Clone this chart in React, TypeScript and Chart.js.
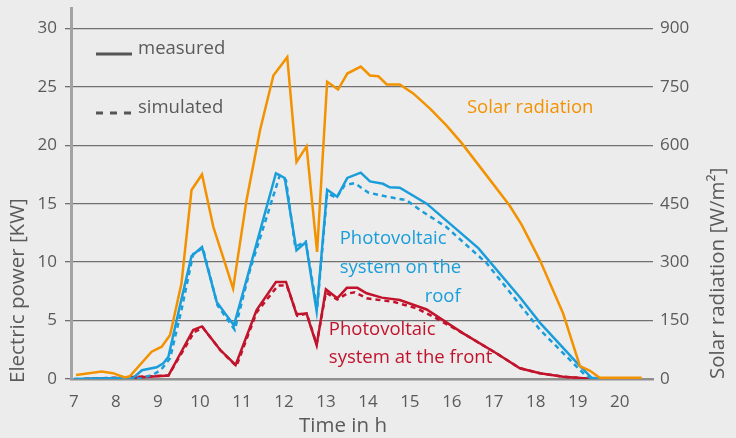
import React, { useEffect, useRef } from "react";
import { Chart, registerables } from "chart.js";

Chart.register(...registerables);

const FONT = '"Open Sans", "Noto Sans", sans-serif';
const TEXT = "#5a5a5a";
const BG = "#ececec";
const ORANGE = "#f39200";
const BLUE = "#1a9edb";
const RED = "#c1142c";

const xTicks = [7, 8, 9, 10, 11, 12, 13, 14, 15, 16, 17, 18, 19, 20];
const powerTicks = [0, 5, 10, 15, 20, 25, 30];
const radiationTicks = [0, 150, 300, 450, 600, 750, 900];

// Solar radiation [W/m²]
const solarTime = [7.05, 7.66, 7.93, 8.21, 8.33, 8.85, 9.09, 9.29, 9.56, 9.8, 10.05, 10.32, 10.6, 10.79, 11.11, 11.43, 11.75, 12.08, 12.3, 12.54, 12.79, 13.03, 13.29, 13.51, 13.83, 14.05, 14.25, 14.45, 14.76, 15.08, 15.48, 15.87, 16.23, 16.83, 17.37, 17.66, 18.1, 18.65, 19.05, 19.29, 19.52, 20.52];
const solarValue = [10, 19, 15, 4, 7, 70, 83, 113, 245, 485, 525, 390, 297, 232, 459, 638, 779, 826, 557, 597, 326, 763, 743, 784, 802, 779, 777, 756, 756, 733, 694, 651, 606, 522, 446, 396, 304, 168, 33, 21, 3, 3];

// PV on the roof [kW]
const roofMeasTime = [7.0, 8.41, 8.62, 8.97, 9.13, 9.25, 9.52, 9.8, 10.05, 10.4, 10.6, 10.81, 11.19, 11.81, 12.02, 12.3, 12.52, 12.78, 13.03, 13.27, 13.51, 13.83, 14.05, 14.36, 14.52, 14.76, 15.4, 16.63, 17.62, 18.1, 19.05, 19.33, 19.6];
const roofMeasValue = [0, 0.1, 0.75, 1.0, 1.35, 1.9, 6.2, 10.5, 11.3, 6.6, 5.6, 4.6, 9.5, 17.6, 17.2, 11.0, 11.7, 5.8, 16.2, 15.6, 17.2, 17.65, 16.9, 16.7, 16.4, 16.37, 15.0, 11.2, 7.0, 4.8, 1.1, 0.1, 0];
const roofSimTime = [7.0, 8.6, 8.9, 9.07, 9.29, 9.56, 9.84, 10.07, 10.42, 10.83, 11.19, 11.9, 12.05, 12.27, 12.52, 12.79, 13.03, 13.25, 13.45, 13.69, 14.01, 14.45, 14.92, 15.24, 15.87, 16.83, 18.1, 19.17, 19.35];
const roofSimValue = [0, 0.05, 0.4, 0.77, 1.77, 5.9, 10.7, 11.2, 6.3, 4.2, 9.3, 17.4, 17.0, 11.3, 11.75, 5.96, 15.9, 15.5, 16.6, 16.75, 15.95, 15.6, 15.3, 14.46, 13.0, 9.9, 4.2, 0.34, 0];

// PV at the front [kW]
const frontMeasTime = [7.25, 8.41, 9.25, 9.84, 10.05, 10.48, 10.85, 11.35, 11.81, 12.05, 12.3, 12.54, 12.78, 13.0, 13.27, 13.5, 13.75, 13.97, 14.33, 14.76, 15.4, 16.27, 17.06, 17.62, 18.1, 18.65, 19.3, 20.5];
const frontMeasValue = [0, 0.1, 0.3, 4.2, 4.5, 2.5, 1.2, 5.9, 8.3, 8.3, 5.55, 5.6, 2.9, 7.67, 6.9, 7.8, 7.8, 7.33, 6.96, 6.76, 5.95, 3.9, 2.2, 0.92, 0.49, 0.2, 0.02, 0];
const frontSimTime = [7.25, 9.25, 9.86, 10.07, 10.5, 10.87, 11.35, 11.86, 12.07, 12.32, 12.54, 12.78, 13.0, 13.27, 13.5, 13.69, 13.97, 14.6, 15.16, 15.56, 16.27, 17.06, 17.62, 18.1, 18.65, 19.3, 20.5];
const frontSimValue = [0, 0.3, 4.0, 4.4, 2.4, 1.1, 5.7, 8.0, 8.0, 5.4, 5.6, 3.0, 7.4, 6.8, 7.3, 7.42, 6.9, 6.61, 6.05, 5.33, 3.9, 2.2, 0.92, 0.49, 0.2, 0.02, 0];

const pts = (t: number[], v: number[]) => t.map((x, i) => ({ x, y: v[i] }));

const overlayPlugin = {
  id: "overlay",
  beforeDraw(chart: any) {
    const { ctx, width, height } = chart;
    ctx.save();
    ctx.fillStyle = BG;
    ctx.fillRect(0, 0, width, height);
    ctx.restore();
  },
  afterDraw(chart: any) {
    const { ctx, chartArea: a, scales } = chart;
    const sx = scales.x;
    const sy = scales.y;
    ctx.save();
    // legend
    ctx.strokeStyle = "#555555";
    ctx.lineWidth = 3;
    ctx.beginPath();
    ctx.moveTo(a.left + 25, 54);
    ctx.lineTo(a.left + 61, 54);
    ctx.stroke();
    ctx.setLineDash([7, 7]);
    ctx.beginPath();
    ctx.moveTo(a.left + 25, 113);
    ctx.lineTo(a.left + 61, 113);
    ctx.stroke();
    ctx.setLineDash([]);
    ctx.font = `18.5px ${FONT}`;
    ctx.fillStyle = TEXT;
    ctx.textAlign = "left";
    ctx.textBaseline = "middle";
    ctx.fillText("measured", a.left + 67, 49);
    ctx.fillText("simulated", a.left + 67, 108);

    // annotations
    ctx.fillStyle = ORANGE;
    ctx.fillText("Solar radiation", sx.getPixelForValue(16.36), sy.getPixelForValue(23.18));
    ctx.fillStyle = BLUE;
    ctx.fillText("Photovoltaic", sx.getPixelForValue(13.33), sy.getPixelForValue(11.98));
    ctx.fillText("system on the", sx.getPixelForValue(13.33), sy.getPixelForValue(9.5));
    ctx.textAlign = "right";
    ctx.fillText("roof", sx.getPixelForValue(16.21), sy.getPixelForValue(7.01));
    ctx.textAlign = "left";
    ctx.fillStyle = RED;
    ctx.fillText("Photovoltaic", sx.getPixelForValue(13.07), sy.getPixelForValue(4.19));
    ctx.fillText("system at the front", sx.getPixelForValue(13.07), sy.getPixelForValue(1.8));

    // axis titles
    ctx.fillStyle = TEXT;
    ctx.font = `20.5px ${FONT}`;
    ctx.textAlign = "center";
    ctx.fillText("Time in h", (a.left + a.right) / 2 - 19, 426);
    ctx.save();
    ctx.translate(18, a.bottom + 4);
    ctx.rotate(-Math.PI / 2);
    ctx.textAlign = "left";
    ctx.fillText("Electric power [KW]", 0, 0);
    ctx.restore();
    ctx.save();
    ctx.translate(718, a.bottom);
    ctx.rotate(-Math.PI / 2);
    ctx.textAlign = "left";
    ctx.fillText("Solar radiation [W/m²]", 0, 0);
    ctx.restore();
    ctx.restore();
  },
};

export default function App() {
  const ref = useRef<HTMLCanvasElement | null>(null);

  useEffect(() => {
    document.body.style.margin = "0";
    if (!ref.current) return;
    const tickFont = { family: FONT, size: 17 };
    const line = (label: string, data: any, color: string, axis: string, dashed: boolean) => ({
      label,
      data,
      borderColor: color,
      backgroundColor: color,
      borderWidth: 2.5,
      borderDash: dashed ? [5, 4] : [],
      pointRadius: 0,
      tension: 0,
      fill: false,
      yAxisID: axis,
    });
    const vFit = (w: number) => (s: any) => {
      s.width = w;
      s.paddingTop = 0;
      s.paddingBottom = 0;
    };
    const chart = new Chart(ref.current, {
      type: "line",
      data: {
        datasets: [
          line("Solar radiation", pts(solarTime, solarValue), ORANGE, "y2", false),
          line("Roof measured", pts(roofMeasTime, roofMeasValue), BLUE, "y", false),
          line("Roof simulated", pts(roofSimTime, roofSimValue), BLUE, "y", true),
          line("Front measured", pts(frontMeasTime, frontMeasValue), RED, "y", false),
          line("Front simulated", pts(frontSimTime, frontSimValue), RED, "y", true),
        ],
      },
      options: {
        responsive: false,
        animation: false,
        layout: { padding: { top: 8, left: 0, right: 0, bottom: 0 } },
        plugins: { legend: { display: false }, tooltip: { enabled: false }, title: { display: false } },
        scales: {
          x: {
            type: "linear",
            min: 6.93,
            max: 20.79,
            afterBuildTicks: (s: any) => {
              s.ticks = xTicks.map((v) => ({ value: v }));
            },
            afterFit: (s: any) => {
              s.height = 59;
              s.paddingLeft = 0;
              s.paddingRight = 0;
            },
            grid: { display: false, drawTicks: false },
            border: { display: true, color: "#8f8f8f", width: 2.5 },
            ticks: { padding: 13, font: tickFont, color: TEXT, autoSkip: false, maxRotation: 0 },
          },
          y: {
            position: "left",
            min: 0,
            max: 31.74,
            afterBuildTicks: (s: any) => {
              s.ticks = powerTicks.map((v) => ({ value: v }));
            },
            afterFit: vFit(71),
            grid: { color: "#707070", lineWidth: 1.3, tickLength: 6, drawTicks: true },
            border: { display: true, color: "#a3a3a3", width: 3 },
            ticks: { padding: 8, font: tickFont, color: TEXT },
          },
          y2: {
            position: "right",
            min: 0,
            max: 952.2,
            afterBuildTicks: (s: any) => {
              s.ticks = radiationTicks.map((v) => ({ value: v }));
            },
            afterFit: vFit(83),
            grid: { display: false, drawTicks: false },
            border: { display: false },
            ticks: { padding: 7, font: tickFont, color: TEXT },
          },
        },
      },
      plugins: [overlayPlugin],
    } as any);
    return () => chart.destroy();
  }, []);

  return (
    <div style={{ width: 736, height: 438, background: BG }}>
      <canvas ref={ref} width={736} height={438} style={{ display: "block" }} />
    </div>
  );
}
